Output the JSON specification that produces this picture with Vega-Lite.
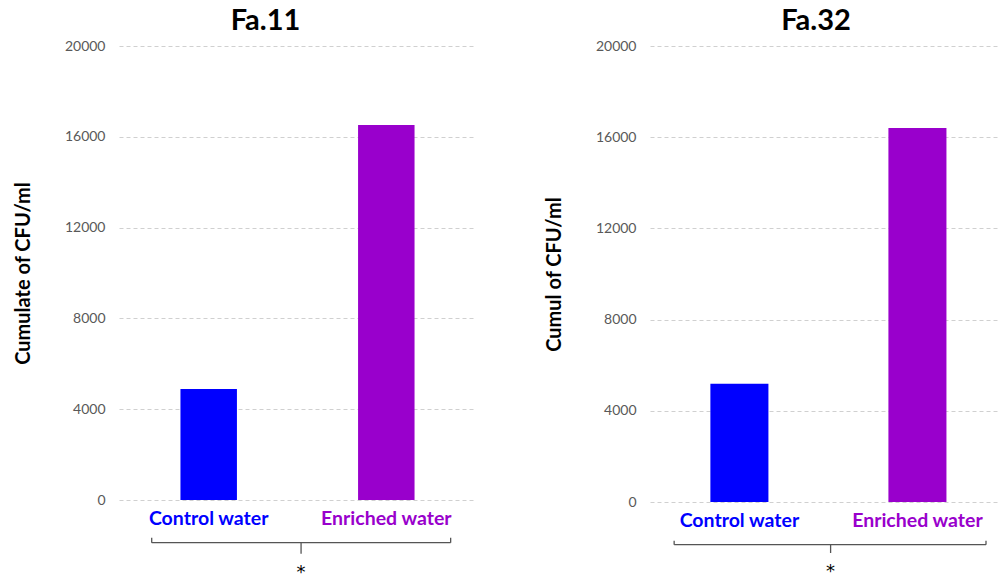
{
  "$schema": "https://vega.github.io/schema/vega-lite/v6.json",
  "padding": {"left": 13, "top": 7, "right": 0, "bottom": 0},
  "spacing": 68,
  "config": {
    "font": "Lato",
    "view": {"stroke": null},
    "title": {"font": "Lato", "fontSize": 29, "fontWeight": "bold", "color": "#000000", "anchor": "middle", "offset": 3}
  },
  "datasets": {
    "fa11": [
      {"group": "Control water", "cfu": 4890},
      {"group": "Enriched water", "cfu": 16520}
    ],
    "fa32": [
      {"group": "Control water", "cfu": 5190},
      {"group": "Enriched water", "cfu": 16400}
    ],
    "br11": [
      {"x": 0.0916, "x2": 0.929, "y": -1881, "y2": -1881},
      {"x": 0.0916, "x2": 0.0916, "y": -1881, "y2": -1661},
      {"x": 0.929, "x2": 0.929, "y": -1881, "y2": -1661},
      {"x": 0.51, "x2": 0.51, "y": -1881, "y2": -2366}
    ],
    "br32": [
      {"x": 0.069, "x2": 0.96, "y": -1873, "y2": -1873},
      {"x": 0.069, "x2": 0.069, "y": -1873, "y2": -1697},
      {"x": 0.96, "x2": 0.96, "y": -1873, "y2": -1697},
      {"x": 0.516, "x2": 0.516, "y": -1873, "y2": -2237}
    ],
    "st11": [{"x": 0.51, "y": -2800, "label": "*"}],
    "st32": [{"x": 0.516, "y": -2680, "label": "*"}]
  },
  "hconcat": [
    {
      "width": 357,
      "height": 454,
      "title": {"text": "Fa.11", "dx": -32},
      "layer": [
        {
          "data": {"name": "fa11"},
          "mark": {"type": "bar"},
          "encoding": {
            "x": {
              "field": "group", "type": "nominal", "sort": null,
              "scale": {"paddingInner": 0.682, "paddingOuter": 0.346, "align": 0.5},
              "axis": {
                "title": null, "labelAngle": 0, "domain": false, "ticks": false,
                "labelFont": "Lato", "labelFontSize": 19.5, "labelFontWeight": "bold", "labelPadding": 9,
                "labelColor": {"expr": "datum.value == 'Control water' ? '#0000ff' : '#9900cc'"}
              }
            },
            "y": {
              "field": "cfu", "type": "quantitative",
              "scale": {"domain": [0, 20000], "nice": false},
              "axis": {
                "title": "Cumulate of CFU/ml", "titleFont": "Lato", "titleFontSize": 20, "titleFontWeight": "bold", "titleColor": "#000000", "titlePadding": 31,
                "values": [0, 4000, 8000, 12000, 16000, 20000], "format": "d",
                "domain": false, "ticks": false, "labelFont": "Lato", "labelFontSize": 14, "labelColor": "#595959", "labelPadding": 14,
                "grid": true, "gridDash": [4, 3], "gridColor": "#d0d0d0", "gridWidth": 1
              }
            },
            "color": {
              "field": "group", "type": "nominal",
              "scale": {"domain": ["Control water", "Enriched water"], "range": ["#0000ff", "#9900cc"]},
              "legend": null
            }
          }
        },
        {
          "data": {"name": "br11"},
          "mark": {"type": "rule", "color": "#555555", "strokeWidth": 1.3, "clip": false},
          "encoding": {
            "x": {"field": "x", "type": "quantitative", "scale": {"domain": [0, 1], "nice": false, "zero": false}, "axis": null},
            "x2": {"field": "x2"},
            "y": {"field": "y", "type": "quantitative"},
            "y2": {"field": "y2"}
          }
        },
        {
          "data": {"name": "st11"},
          "mark": {"type": "text", "font": "DejaVu Sans", "fontSize": 18, "baseline": "top", "color": "#000000", "clip": false},
          "encoding": {
            "x": {"field": "x", "type": "quantitative", "scale": {"domain": [0, 1], "nice": false, "zero": false}, "axis": null},
            "y": {"field": "y", "type": "quantitative"},
            "text": {"field": "label"}
          }
        }
      ],
      "resolve": {"scale": {"x": "independent", "color": "independent"}, "axis": {"x": "independent"}}
    },
    {
      "width": 350,
      "height": 456,
      "title": {"text": "Fa.32", "dx": -9},
      "layer": [
        {
          "data": {"name": "fa32"},
          "mark": {"type": "bar"},
          "encoding": {
            "x": {
              "field": "group", "type": "nominal", "sort": null,
              "scale": {"paddingInner": 0.674, "paddingOuter": 0.32, "align": 0.53},
              "axis": {
                "title": null, "labelAngle": 0, "domain": false, "ticks": false,
                "labelFont": "Lato", "labelFontSize": 19.5, "labelFontWeight": "bold", "labelPadding": 9,
                "labelColor": {"expr": "datum.value == 'Control water' ? '#0000ff' : '#9900cc'"}
              }
            },
            "y": {
              "field": "cfu", "type": "quantitative",
              "scale": {"domain": [0, 20000], "nice": false},
              "axis": {
                "title": "Cumul of CFU/ml", "titleFont": "Lato", "titleFontSize": 20, "titleFontWeight": "bold", "titleColor": "#000000", "titlePadding": 31,
                "values": [0, 4000, 8000, 12000, 16000, 20000], "format": "d",
                "domain": false, "ticks": false, "labelFont": "Lato", "labelFontSize": 14, "labelColor": "#595959", "labelPadding": 14,
                "grid": true, "gridDash": [4, 3], "gridColor": "#d0d0d0", "gridWidth": 1
              }
            },
            "color": {
              "field": "group", "type": "nominal",
              "scale": {"domain": ["Control water", "Enriched water"], "range": ["#0000ff", "#9900cc"]},
              "legend": null
            }
          }
        },
        {
          "data": {"name": "br32"},
          "mark": {"type": "rule", "color": "#555555", "strokeWidth": 1.3, "clip": false},
          "encoding": {
            "x": {"field": "x", "type": "quantitative", "scale": {"domain": [0, 1], "nice": false, "zero": false}, "axis": null},
            "x2": {"field": "x2"},
            "y": {"field": "y", "type": "quantitative"},
            "y2": {"field": "y2"}
          }
        },
        {
          "data": {"name": "st32"},
          "mark": {"type": "text", "font": "DejaVu Sans", "fontSize": 18, "baseline": "top", "color": "#000000", "clip": false},
          "encoding": {
            "x": {"field": "x", "type": "quantitative", "scale": {"domain": [0, 1], "nice": false, "zero": false}, "axis": null},
            "y": {"field": "y", "type": "quantitative"},
            "text": {"field": "label"}
          }
        }
      ],
      "resolve": {"scale": {"x": "independent", "color": "independent"}, "axis": {"x": "independent"}}
    }
  ]
}
